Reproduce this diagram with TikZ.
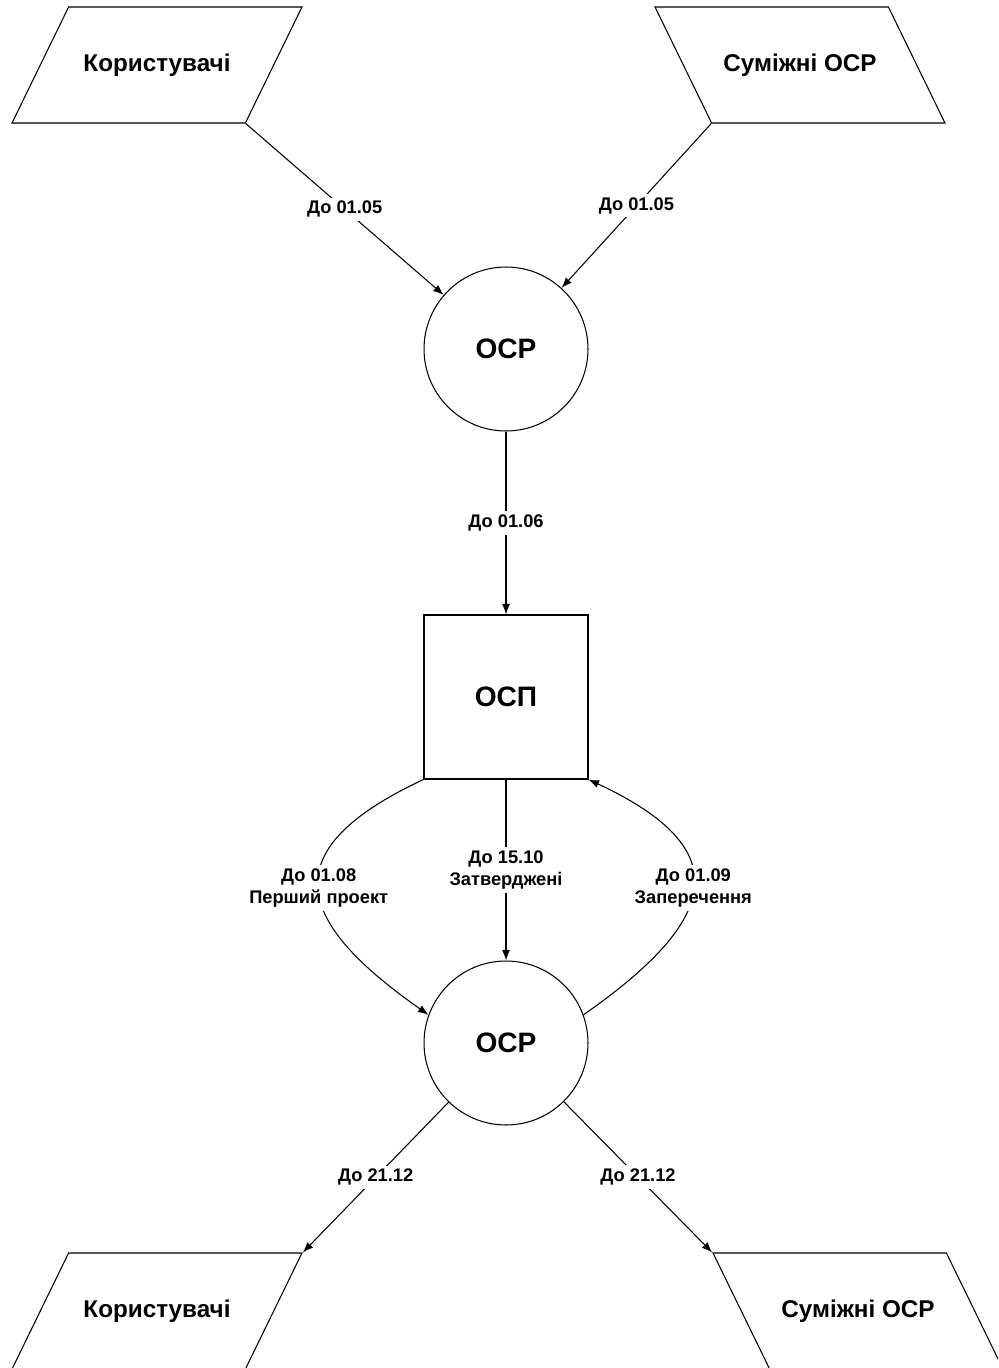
\documentclass[tikz,border=0pt]{standalone}
\usepackage{fontspec}
\setmainfont{Liberation Sans}
\usetikzlibrary{arrows.meta,shapes.geometric}
\newcommand{\lbsize}{\fontsize{10.4}{12.5}\selectfont}

\begin{document}
\begin{tikzpicture}[x=0.02cm,y=0.02cm,line width=0.6pt,
   >={Latex[length=6pt,width=4.5pt]},
   src/.style={trapezium,draw,trapezium stretches body=true,
     text height=10pt,text depth=3pt,inner ysep=1.16cm-6.5pt,
     minimum width=5.8cm,
     font=\bfseries\fontsize{13.8}{16}\selectfont},
   lsrc/.style={src,trapezium left angle=64,trapezium right angle=116},
   rsrc/.style={src,trapezium left angle=116,trapezium right angle=64},
   proc/.style={circle,draw,minimum size=3.28cm,
     font=\bfseries\fontsize{16}{19}\selectfont},
   store/.style={rectangle,draw,minimum size=3.28cm,
     font=\bfseries\fontsize{16}{19}\selectfont},
   lab/.style={fill=white,align=center,inner sep=2pt,font=\bfseries\lbsize}]
   \useasboundingbox (0,0) rectangle (998,-1368);
   \clip (0,0) rectangle (998,-1368);
   % sources and sinks
   \node[lsrc]  (usr1) at (157,  -65) {Користувачі};
   \node[rsrc]  (adj1) at (800,  -65) {Суміжні ОСР};
   \node[lsrc]  (usr2) at (157,-1311) {Користувачі};
   \node[rsrc]  (adj2) at (858,-1311) {Суміжні ОСР};
   % processes
   \node[proc]  (ocr1) at (506, -349) {ОСР};
   \node[store] (osp)  at (506, -697) {ОСП};
   \node[proc]  (ocr2) at (506,-1043) {ОСР};
   % flows
   \draw[->] (usr1.bottom right corner) -- node[lab]{До 01.05} (ocr1);
   \draw[->] (adj1.bottom left corner)  -- node[lab]{До 01.05} (ocr1);
   \draw[->] (ocr1) -- node[lab]{До 01.06} (osp);
   \draw[->] (osp) -- node[lab]{До 15.10\\Затверджені} (ocr2);
   \draw[->] (osp.south west) to[out=205,in=145,looseness=1.8]
      node[lab]{До 01.08\\Перший проект} (ocr2.160);
   \draw[->] (ocr2.20) to[out=35,in=-25,looseness=1.8]
      node[lab]{До 01.09\\Заперечення} (osp.south east);
   \draw[->] (ocr2) -- node[lab]{До 21.12} (usr2.top right corner);
   \draw[->] (ocr2) -- node[lab]{До 21.12} (adj2.top left corner);
\end{tikzpicture}
\end{document}
